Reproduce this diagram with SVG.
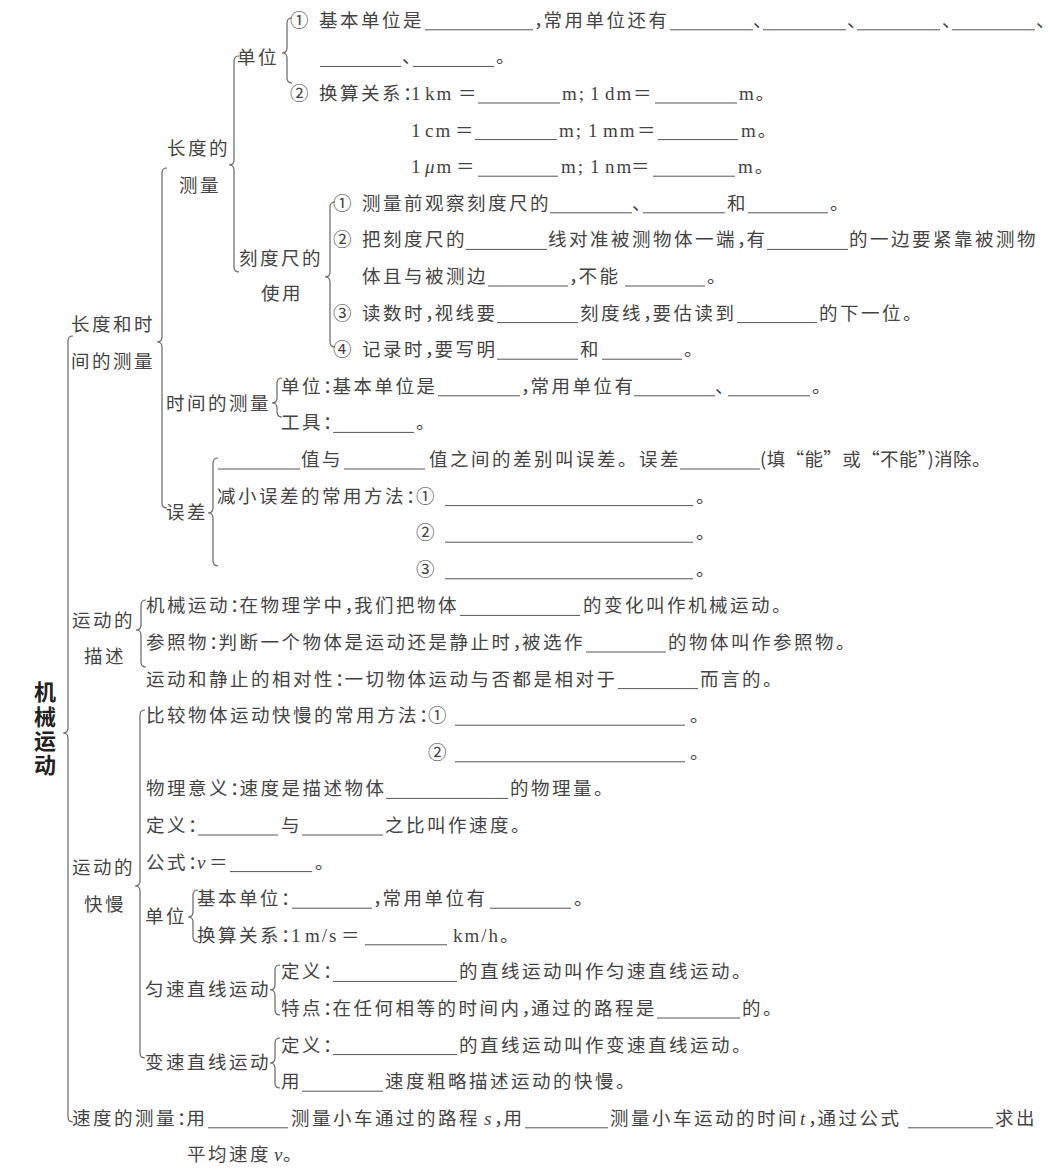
<svg xmlns="http://www.w3.org/2000/svg" width="1051" height="1171" viewBox="0 0 1051 1171">
<style>
.t{font-family:"Noto Sans CJK SC","Noto Sans CJK JP",sans-serif;font-size:18.5px;letter-spacing:2.5px;fill:#444}
.p{letter-spacing:-9px}
.s{font-family:"Liberation Serif",serif;font-size:19px;letter-spacing:2px;fill:#444}
.c{font-family:"Noto Sans CJK SC","Noto Sans CJK JP",sans-serif;font-size:18.5px;letter-spacing:0}
.i{font-style:italic}
.h{font-family:"Noto Sans CJK SC",sans-serif;font-size:22px;font-weight:bold;fill:#222;letter-spacing:2.3px}
.u line{stroke:#555;stroke-width:1}
.b{fill:none;stroke:#666;stroke-width:1.2}
</style>
<rect width="1051" height="1171" fill="#fff"/>
<g id="connectors" class="b">
<path d="M73,336 Q68,336 68,341 L68,728 Q68,733 63,733 Q68,733 68,738 L68,1117 Q68,1122 73,1122"/>
<path d="M167,168 Q162,168 162,173 L162,337 Q162,342 157,342 Q162,342 162,347 L162,503 Q162,508 167,508"/>
<path d="M239,56 Q234,56 234,61 L234,160 Q234,165 229,165 Q234,165 234,170 L234,267 Q234,272 239,272"/>
<path d="M292,18 Q287,18 287,23 L287,48 Q287,53 282,53 Q287,53 287,58 L287,78 Q287,83 292,83"/>
<path d="M335,202 Q330,202 330,207 L330,272 Q330,277 325,277 Q330,277 330,282 L330,342 Q330,347 335,347"/>
<path d="M282,378 Q277,378 277,383 L277,398 Q277,403 272,403 Q277,403 277,408 L277,412 Q277,417 282,417"/>
<path d="M218,458 Q213,458 213,463 L213,508 Q213,513 208,513 Q213,513 213,518 L213,561 Q213,566 218,566"/>
<path d="M146,600 Q141,600 141,605 L141,625 Q141,630 136,630 Q141,630 141,635 L141,662 Q141,667 146,667"/>
<path d="M145,710 Q140,710 140,715 L140,881 Q140,886 135,886 Q140,886 140,891 L140,1053 Q140,1058 145,1058"/>
<path d="M198,890 Q193,890 193,895 L193,912 Q193,917 188,917 Q193,917 193,922 L193,937 Q193,942 198,942"/>
<path d="M280,965 Q275,965 275,970 L275,985 Q275,990 270,990 Q275,990 275,995 L275,1010 Q275,1015 280,1015"/>
<path d="M280,1038 Q275,1038 275,1043 L275,1058 Q275,1063 270,1063 Q275,1063 275,1068 L275,1083 Q275,1088 280,1088"/>
</g>
<g id="root">
<text class="h" x="45" y="681" writing-mode="vertical-rl">机械运动</text>
</g>
<g id="length-time" class="u">
<text class="t" x="71" y="331">长度和时</text>
<text class="t" x="71" y="368">间的测量</text>
</g>
<g id="length" class="u">
<text class="t" x="167" y="155">长度的</text>
<text class="t" x="179" y="192">测量</text>
</g>
<g id="length-unit" class="u">
<text class="t" x="237" y="63.5">单位</text>
<text class="t" x="290" y="26.8">①</text>
<text class="t" x="319" y="26.8">基本单位是</text>
<line x1="425" y1="29.8" x2="533" y2="29.8"/>
<text class="t" x="534" y="26.8"><tspan class="p">，</tspan>常用单位还有</text>
<line x1="670" y1="29.8" x2="753" y2="29.8"/>
<text class="t" x="753" y="26.8">、</text>
<line x1="763" y1="29.8" x2="846" y2="29.8"/>
<text class="t" x="847" y="26.8">、</text>
<line x1="857" y1="29.8" x2="940" y2="29.8"/>
<text class="t" x="942" y="26.8">、</text>
<line x1="952" y1="29.8" x2="1035" y2="29.8"/>
<text class="t p" x="1036" y="26.8">、</text>
<line x1="320" y1="66.4" x2="401" y2="66.4"/>
<text class="t" x="402" y="63.4">、</text>
<line x1="413" y1="66.4" x2="494" y2="66.4"/>
<text class="t" x="496" y="63.4">。</text>
<text class="t" x="290" y="100">②</text>
<text class="t" x="319" y="100">换算关系<tspan class="p">：</tspan></text>
<text class="s" x="411" y="100">1<tspan x="425">km</tspan></text>
<text class="t" x="458" y="100">＝</text>
<line x1="478" y1="103" x2="560" y2="103"/>
<text class="s" x="562" y="100">m;<tspan x="590">1</tspan><tspan x="605">dm</tspan></text>
<text class="t" x="633" y="100">＝</text>
<line x1="655" y1="103" x2="737" y2="103"/>
<text class="s" x="739" y="100">m<tspan class="c">。</tspan></text>
<text class="s" x="411" y="136.6">1<tspan x="425">cm</tspan></text>
<text class="t" x="455" y="136.6">＝</text>
<line x1="475" y1="139.6" x2="557" y2="139.6"/>
<text class="s" x="559" y="136.6">m;<tspan x="588">1</tspan><tspan x="603">mm</tspan></text>
<text class="t" x="637" y="136.6">＝</text>
<line x1="658" y1="139.6" x2="738" y2="139.6"/>
<text class="s" x="741" y="136.6">m<tspan class="c">。</tspan></text>
<text class="s" x="411" y="173.2">1<tspan x="425" class="i">μ</tspan>m</text>
<text class="t" x="456" y="173.2">＝</text>
<line x1="478" y1="176.2" x2="558" y2="176.2"/>
<text class="s" x="561" y="173.2">m;<tspan x="590">1</tspan><tspan x="605">nm</tspan></text>
<text class="t" x="631" y="173.2">＝</text>
<line x1="653" y1="176.2" x2="735" y2="176.2"/>
<text class="s" x="738" y="173.2">m<tspan class="c">。</tspan></text>
</g>
<g id="ruler" class="u">
<text class="t" x="239" y="265">刻度尺的</text>
<text class="t" x="261" y="300">使用</text>
<text class="t" x="333" y="209.8">①</text>
<text class="t" x="362" y="209.8">测量前观察刻度尺的</text>
<line x1="550" y1="212.8" x2="632" y2="212.8"/>
<text class="t" x="632" y="209.8">、</text>
<line x1="643" y1="212.8" x2="725" y2="212.8"/>
<text class="t" x="727" y="209.8">和</text>
<line x1="748" y1="212.8" x2="828" y2="212.8"/>
<text class="t" x="830" y="209.8">。</text>
<text class="t" x="333" y="246.4">②</text>
<text class="t" x="362" y="246.4">把刻度尺的</text>
<line x1="466" y1="249.4" x2="547" y2="249.4"/>
<text class="t" x="548" y="246.4">线对准被测物体一端<tspan class="p">，</tspan>有</text>
<line x1="767" y1="249.4" x2="848" y2="249.4"/>
<text class="t" x="849" y="246.4">的一边要紧靠被测物</text>
<text class="t" x="362" y="283">体且与被测边</text>
<line x1="488" y1="286" x2="568" y2="286"/>
<text class="t" x="569" y="283"><tspan class="p">，</tspan>不能</text>
<line x1="625" y1="286" x2="705" y2="286"/>
<text class="t" x="707" y="283">。</text>
<text class="t" x="333" y="319.6">③</text>
<text class="t" x="362" y="319.6">读数时<tspan class="p">，</tspan>视线要</text>
<line x1="497" y1="322.6" x2="578" y2="322.6"/>
<text class="t" x="580" y="319.6">刻度线<tspan class="p">，</tspan>要估读到</text>
<line x1="737" y1="322.6" x2="817" y2="322.6"/>
<text class="t" x="819" y="319.6">的下一位。</text>
<text class="t" x="333" y="356.2">④</text>
<text class="t" x="362" y="356.2">记录时<tspan class="p">，</tspan>要写明</text>
<line x1="497" y1="359.2" x2="578" y2="359.2"/>
<text class="t" x="580" y="356.2">和</text>
<line x1="602" y1="359.2" x2="682" y2="359.2"/>
<text class="t" x="684" y="356.2">。</text>
</g>
<g id="time" class="u">
<text class="t" x="166" y="410">时间的测量</text>
<text class="t" x="281" y="392.8">单位<tspan class="p">：</tspan>基本单位是</text>
<line x1="438" y1="395.8" x2="520" y2="395.8"/>
<text class="t" x="521" y="392.8"><tspan class="p">，</tspan>常用单位有</text>
<line x1="634" y1="395.8" x2="715" y2="395.8"/>
<text class="t" x="715" y="392.8">、</text>
<line x1="728" y1="395.8" x2="810" y2="395.8"/>
<text class="t" x="812" y="392.8">。</text>
<text class="t" x="281" y="429.4">工具<tspan class="p">：</tspan></text>
<line x1="333" y1="432.4" x2="414" y2="432.4"/>
<text class="t" x="416" y="429.4">。</text>
</g>
<g id="error" class="u">
<text class="t" x="166" y="519">误差</text>
<line x1="218" y1="469" x2="300" y2="469"/>
<text class="t" x="301" y="466">值与</text>
<line x1="344" y1="469" x2="425" y2="469"/>
<text class="t" x="429" y="466">值之间的差别叫误差。误差</text>
<line x1="680" y1="469" x2="760" y2="469"/>
<text class="t" x="760" y="466" textLength="233" lengthAdjust="spacing">(填“能”或“不能”)消除。</text>
<text class="t" x="217" y="502.6">减小误差的常用方法<tspan class="p">：</tspan></text>
<text class="t" x="416" y="502.6">①</text>
<line x1="445" y1="505.6" x2="693" y2="505.6"/>
<text class="t" x="696" y="502.6">。</text>
<text class="t" x="416" y="539.2">②</text>
<line x1="445" y1="542.2" x2="693" y2="542.2"/>
<text class="t" x="696" y="539.2">。</text>
<text class="t" x="416" y="575.8">③</text>
<line x1="445" y1="578.8" x2="693" y2="578.8"/>
<text class="t" x="696" y="575.8">。</text>
</g>
<g id="motion-desc" class="u">
<text class="t" x="72" y="627">运动的</text>
<text class="t" x="84" y="663">描述</text>
<text class="t" x="146" y="612.4">机械运动<tspan class="p">：</tspan>在物理学中<tspan class="p">，</tspan>我们把物体</text>
<line x1="460" y1="615.4" x2="580" y2="615.4"/>
<text class="t" x="583" y="612.4">的变化叫作机械运动。</text>
<text class="t" x="146" y="649">参照物<tspan class="p">：</tspan>判断一个物体是运动还是静止时<tspan class="p">，</tspan>被选作</text>
<line x1="586" y1="652" x2="666" y2="652"/>
<text class="t" x="668" y="649">的物体叫作参照物。</text>
<text class="t" x="146" y="685.6">运动和静止的相对性<tspan class="p">：</tspan>一切物体运动与否都是相对于</text>
<line x1="618" y1="688.6" x2="698" y2="688.6"/>
<text class="t" x="700" y="685.6">而言的。</text>
</g>
<g id="motion-speed" class="u">
<text class="t" x="72" y="874">运动的</text>
<text class="t" x="84" y="911">快慢</text>
<text class="t" x="146" y="722.2">比较物体运动快慢的常用方法<tspan class="p">：</tspan></text>
<text class="t" x="428" y="722.2">①</text>
<line x1="455" y1="725.2" x2="685" y2="725.2"/>
<text class="t" x="690" y="722.2">。</text>
<text class="t" x="428" y="758.8">②</text>
<line x1="455" y1="761.8" x2="685" y2="761.8"/>
<text class="t" x="690" y="758.8">。</text>
<text class="t" x="146" y="795.4">物理意义<tspan class="p">：</tspan>速度是描述物体</text>
<line x1="386" y1="798.4" x2="508" y2="798.4"/>
<text class="t" x="510" y="795.4">的物理量。</text>
<text class="t" x="146" y="832">定义<tspan class="p">：</tspan></text>
<line x1="198" y1="835" x2="278" y2="835"/>
<text class="t" x="281" y="832">与</text>
<line x1="302" y1="835" x2="383" y2="835"/>
<text class="t" x="385" y="832">之比叫作速度。</text>
<text class="t" x="146" y="868.6">公式<tspan class="p">：</tspan></text>
<text class="s i" x="197" y="868.6">v</text>
<text class="t" x="209" y="868.6">＝</text>
<line x1="230" y1="871.6" x2="312" y2="871.6"/>
<text class="t" x="315" y="868.6">。</text>
</g>
<g id="speed-unit" class="u">
<text class="t" x="145" y="923">单位</text>
<text class="t" x="197" y="905.2">基本单位<tspan class="p">：</tspan></text>
<line x1="292" y1="908.2" x2="372" y2="908.2"/>
<text class="t" x="373" y="905.2"><tspan class="p">，</tspan>常用单位有</text>
<line x1="490" y1="908.2" x2="571" y2="908.2"/>
<text class="t" x="574" y="905.2">。</text>
<text class="t" x="197" y="941.8">换算关系<tspan class="p">：</tspan></text>
<text class="s" x="291" y="941.8">1<tspan x="305">m/s</tspan></text>
<text class="t" x="341" y="941.8">＝</text>
<line x1="365" y1="944.8" x2="447" y2="944.8"/>
<text class="s" x="453" y="941.8">km/h<tspan class="c">。</tspan></text>
</g>
<g id="uniform" class="u">
<text class="t" x="145" y="996">匀速直线运动</text>
<text class="t" x="281" y="978.4">定义<tspan class="p">：</tspan></text>
<line x1="333" y1="981.4" x2="457" y2="981.4"/>
<text class="t" x="459" y="978.4">的直线运动叫作匀速直线运动。</text>
<text class="t" x="281" y="1015">特点<tspan class="p">：</tspan>在任何相等的时间内<tspan class="p">，</tspan>通过的路程是</text>
<line x1="657" y1="1018" x2="740" y2="1018"/>
<text class="t" x="742" y="1015">的。</text>
</g>
<g id="variable" class="u">
<text class="t" x="145" y="1069">变速直线运动</text>
<text class="t" x="281" y="1051.6">定义<tspan class="p">：</tspan></text>
<line x1="333" y1="1054.6" x2="457" y2="1054.6"/>
<text class="t" x="459" y="1051.6">的直线运动叫作变速直线运动。</text>
<text class="t" x="281" y="1088.2">用</text>
<line x1="302" y1="1091.2" x2="383" y2="1091.2"/>
<text class="t" x="385" y="1088.2">速度粗略描述运动的快慢。</text>
</g>
<g id="speed-measure" class="u">
<text class="t" x="72" y="1124.8">速度的测量<tspan class="p">：</tspan>用</text>
<line x1="208" y1="1127.8" x2="288" y2="1127.8"/>
<text class="t" x="291" y="1124.8">测量小车通过的路程</text>
<text class="s i" x="484" y="1124.8">s</text>
<text class="t" x="494" y="1124.8"><tspan class="p">，</tspan>用</text>
<line x1="525" y1="1127.8" x2="608" y2="1127.8"/>
<text class="t" x="610" y="1124.8">测量小车运动的时间</text>
<text class="s i" x="800" y="1124.8">t</text>
<text class="t" x="808" y="1124.8"><tspan class="p">，</tspan>通过公式</text>
<line x1="908" y1="1127.8" x2="993" y2="1127.8"/>
<text class="t" x="995" y="1124.8">求出</text>
<text class="t" x="187" y="1161.4">平均速度</text>
<text class="s i" x="274" y="1161.4">v</text>
<text class="t" x="283" y="1161.4">。</text>
</g>
</svg>
